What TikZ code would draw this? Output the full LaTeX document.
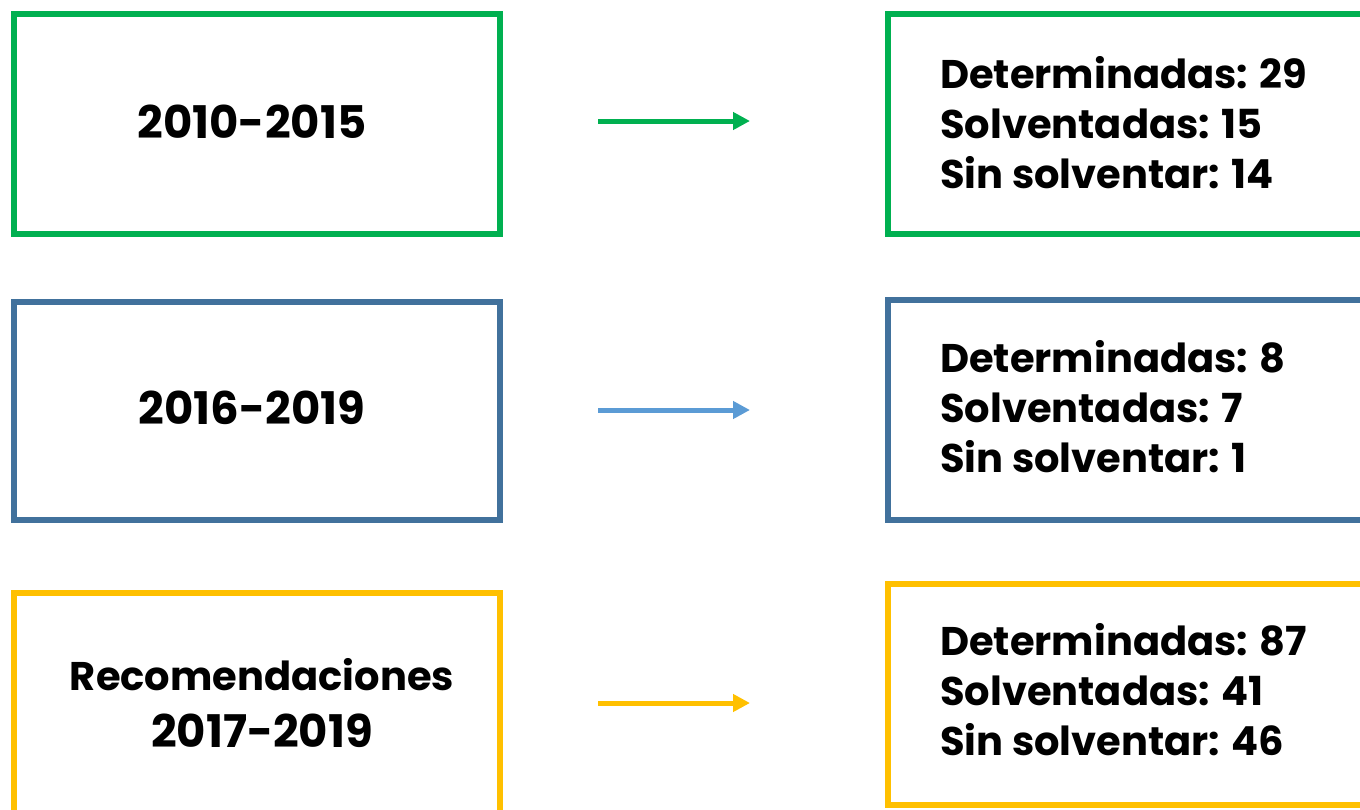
\documentclass[tikz,border=0pt]{standalone}
\usepackage{fontspec}
\setmainfont{Poppins}[BoldFont={* Bold}]
\usetikzlibrary{arrows.meta}
\definecolor{cgreen}{HTML}{00B050}
\definecolor{cblue}{HTML}{41719C}
\definecolor{carrowblue}{HTML}{5B9BD5}
\definecolor{cyellow}{HTML}{FFC000}
\tikzset{
  box/.style={draw=#1, line width=5.5, rectangle, inner sep=0, fill=none},
  lbl/.style={font=\fontsize{40}{50}\selectfont\bfseries, text=black, inner sep=0},
  yr/.style={font=\fontsize{45}{50}\selectfont\bfseries, text=black, inner sep=0, anchor=base},
  rl/.style={lbl, anchor=base west},
  conn/.style={draw=#1, line width=5, -{Triangle[length=17,width=17]}},
}
\begin{document}
\begin{tikzpicture}[x=1pt,y=-1pt]
\useasboundingbox (0,0) rectangle (1360,809);
\clip (0,0) rectangle (1360,809);
% left boxes
\node[box=cgreen, minimum width=486, minimum height=220] (l1) at (257,124) {};
\node[box=cblue, minimum width=486, minimum height=218] (l2) at (257,411) {};
\node[box=cyellow, minimum width=486, minimum height=222] (l3) at (257,704) {};
% right boxes
\node[box=cgreen, minimum width=500, minimum height=220] (r1) at (1138,124) {};
\node[box=cblue, minimum width=500, minimum height=220] (r2) at (1138,410) {};
\node[box=cyellow, minimum width=500, minimum height=221] (r3) at (1138,694.5) {};
% left labels
\node[yr] (t1) at (252,138) {2010-2015};
\node[yr] (t2) at (252,424) {2016-2019};
\node[lbl, anchor=base] (t3a) at (262,690) {Recomendaciones};
\node[yr] (t3b) at (262,747) {2017-2019};
% right labels
\node[rl] (a1) at (940,88) {Determinadas: 29};
\node[rl] (a2) at (940,138) {Solventadas: 15};
\node[rl] (a3) at (940,188) {Sin solventar: 14};
\node[rl] (b1) at (940,372) {Determinadas: 8};
\node[rl] (b2) at (940,422) {Solventadas: 7};
\node[rl] (b3) at (940,472) {Sin solventar: 1};
\node[rl] (c1) at (940,655) {Determinadas: 87};
\node[rl] (c2) at (940,705) {Solventadas: 41};
\node[rl] (c3) at (940,755) {Sin solventar: 46};
% arrows
\coordinate (s1) at (598,121); \coordinate (e1) at (750,121);
\coordinate (s2) at (598,410); \coordinate (e2) at (750,410);
\coordinate (s3) at (598,703); \coordinate (e3) at (750,703);
\draw[conn=cgreen] (s1) -- (e1);
\draw[conn=carrowblue] (s2) -- (e2);
\draw[conn=cyellow] (s3) -- (e3);
\end{tikzpicture}
\end{document}
